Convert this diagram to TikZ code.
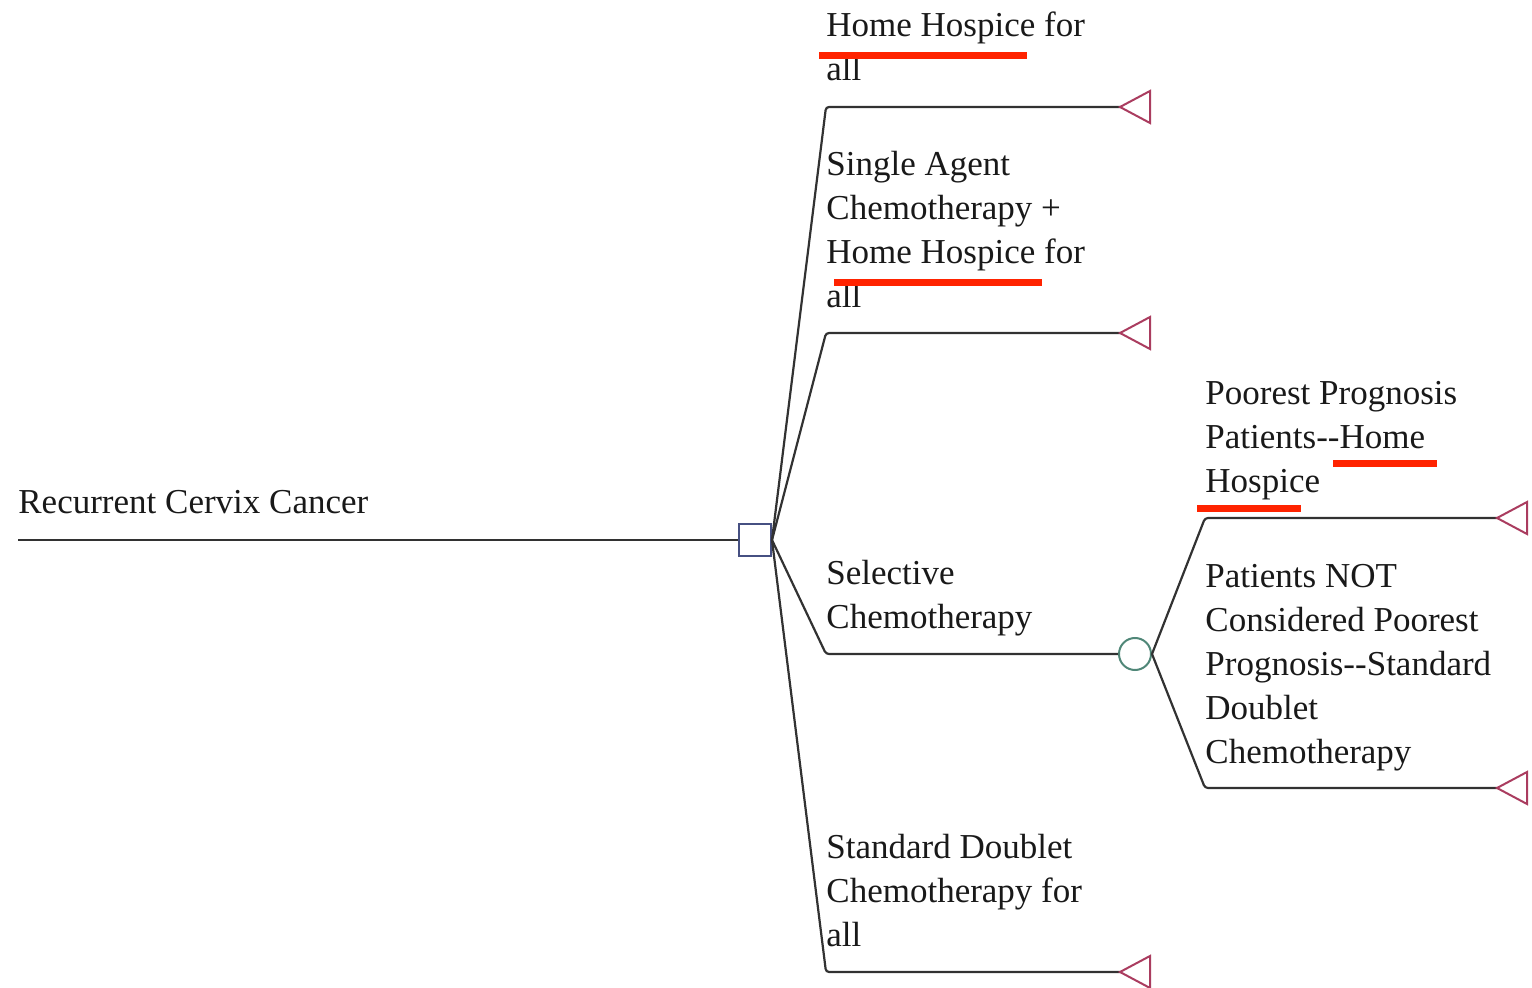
\documentclass[tikz,border=0pt]{standalone}
\usepackage{fontspec}
\setmainfont{Liberation Serif}
\definecolor{linec}{RGB}{50,50,50}
\definecolor{textc}{RGB}{25,25,25}
\definecolor{decc}{RGB}{70,80,130}
\definecolor{chc}{RGB}{80,135,120}
\definecolor{termc}{RGB}{170,60,95}
\definecolor{redc}{RGB}{255,35,0}
\begin{document}
\begin{tikzpicture}[x=0.5pt,y=-0.5pt,
  lbl/.style={anchor=base west,inner sep=0pt,text=textc,font=\fontsize{17.5}{22}\selectfont},
  br/.style={draw=linec,line width=1.1pt,rounded corners=1.5pt},
  dec/.style={draw=decc,rectangle,minimum size=16pt,inner sep=0pt,line width=1pt},
  chance/.style={draw=chc,circle,minimum size=16pt,inner sep=0pt,line width=1pt},
  term/.style={draw=termc,line width=1pt,line join=miter},
  uline/.style={draw=redc,line width=3.5pt}]
\useasboundingbox (0,0) rectangle (1532,988);
% nodes
\node[dec] (dec) at (755,540) {};
\node[chance] (ch) at (1135,654) {};
\coordinate (r0) at (18,540);
\coordinate (c1) at (826,107);
\coordinate (c2) at (826,333);
\coordinate (c3) at (826,654);
\coordinate (c4) at (826,972);
\coordinate (c5) at (1205,518);
\coordinate (c6) at (1205,788);
\coordinate (t1) at (1120,107);
\coordinate (t2) at (1120,333);
\coordinate (t4) at (1120,972);
\coordinate (t5) at (1497,518);
\coordinate (t6) at (1497,788);
% connectors
\draw[br] (r0) -- (dec.west);
\draw[br] (dec.east) -- (c1) -- (t1);
\draw[br] (dec.east) -- (c2) -- (t2);
\draw[br] (dec.east) -- (c3) -- (ch.west);
\draw[br] (dec.east) -- (c4) -- (t4);
\draw[br] (ch.east) -- (c5) -- (t5);
\draw[br] (ch.east) -- (c6) -- (t6);
% terminals
\foreach \t in {t1,t2,t4,t5,t6}{
  \draw[term] (\t) -- ++(30,-16) -- ++(0,32) -- cycle;
}
% labels
\node[lbl] (lroot) at (18,514) {Recurrent Cervix Cancer};
\node[lbl] (l1) at (826,37) {\begin{tabular}[t]{@{}l@{}}Home Hospice for\\all\end{tabular}};
\node[lbl] (l2) at (826,176) {\begin{tabular}[t]{@{}l@{}}Single Agent\\Chemotherapy +\\Home Hospice for\\all\end{tabular}};
\node[lbl] (l3) at (826,585) {\begin{tabular}[t]{@{}l@{}}Selective\\Chemotherapy\end{tabular}};
\node[lbl] (l4) at (826,858) {\begin{tabular}[t]{@{}l@{}}Standard Doublet\\Chemotherapy for\\all\end{tabular}};
\node[lbl] (l5) at (1205,405) {\begin{tabular}[t]{@{}l@{}}Poorest Prognosis\\Patients\mbox{-}\mbox{-}Home\\Hospice\end{tabular}};
\node[lbl] (l6) at (1205,588) {\begin{tabular}[t]{@{}l@{}}Patients NOT\\Considered Poorest\\Prognosis\mbox{-}\mbox{-}Standard\\Doublet\\Chemotherapy\end{tabular}};
% red underlines
\draw[uline] (819,56) -- (1027,56);
\draw[uline] (834,283) -- (1042,283);
\draw[uline] (1333,464) -- (1437,464);
\draw[uline] (1197,509) -- (1301,509);
\end{tikzpicture}
\end{document}
